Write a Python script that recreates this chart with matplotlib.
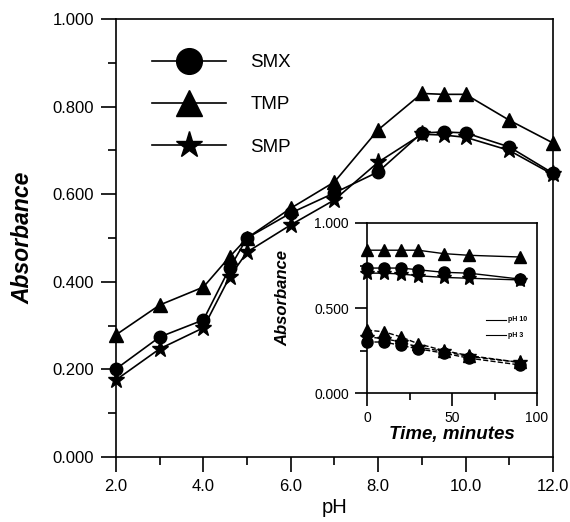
import numpy as np
import matplotlib
matplotlib.use('Agg')
import matplotlib.pyplot as plt
from matplotlib.ticker import MultipleLocator, FormatStrFormatter
from matplotlib.lines import Line2D

plt.rcParams['font.family'] = ['Liberation Sans', 'DejaVu Sans']

# main plot: absorbance vs pH
ph = [2, 3, 4, 4.6, 5, 6, 7, 8, 9, 9.5, 10, 11, 12]
smx = [0.201, 0.274, 0.313, 0.431, 0.500, 0.557, 0.603, 0.651, 0.740, 0.742, 0.740, 0.708, 0.648]
tmp = [0.279, 0.347, 0.388, 0.457, 0.500, 0.568, 0.628, 0.747, 0.830, 0.828, 0.828, 0.769, 0.717]
smp = [0.176, 0.247, 0.295, 0.411, 0.468, 0.530, 0.587, 0.673, 0.737, 0.735, 0.730, 0.700, 0.645]
names = ['SMX', 'TMP', 'SMP']

# inset: absorbance vs time at pH 10 and pH 3
t = [0, 10, 20, 30, 45, 60, 90]
tmp_10 = [0.84, 0.84, 0.84, 0.84, 0.82, 0.81, 0.80]
smx_10 = [0.735, 0.735, 0.735, 0.725, 0.71, 0.705, 0.67]
smp_10 = [0.705, 0.705, 0.70, 0.69, 0.68, 0.675, 0.665]
tmp_3 = [0.37, 0.36, 0.33, 0.29, 0.25, 0.22, 0.18]
smx_3 = [0.30, 0.30, 0.28, 0.26, 0.235, 0.205, 0.165]
smp_3 = [0.33, 0.32, 0.30, 0.27, 0.245, 0.215, 0.18]

fig = plt.figure(figsize=(5.7, 5.22), dpi=100)
ax = fig.add_axes([0.2035, 0.1245, 0.7665, 0.8391])

ax.plot(ph, smx, 'k-', marker='o', ms=9, lw=1.2, clip_on=False, zorder=3)
ax.plot(ph, tmp, 'k-', marker='^', ms=10, lw=1.2, clip_on=False, zorder=3)
ax.plot(ph, smp, 'k-', marker='*', ms=12.5, lw=1.2, clip_on=False, zorder=3)

ax.set_xlim(2, 12)
ax.set_ylim(0, 1)
ax.xaxis.set_major_locator(MultipleLocator(2))
ax.xaxis.set_minor_locator(MultipleLocator(1))
ax.yaxis.set_major_locator(MultipleLocator(0.2))
ax.yaxis.set_minor_locator(MultipleLocator(0.1))
ax.xaxis.set_major_formatter(FormatStrFormatter('%.1f'))
ax.yaxis.set_major_formatter(FormatStrFormatter('%.3f'))
ax.tick_params(which='major', direction='out', length=11, width=1.2, labelsize=12, pad=5)
ax.tick_params(which='minor', direction='out', length=6, width=1.2)
for s in ax.spines.values():
    s.set_linewidth(1.2)
ax.set_xlabel('pH', fontsize=14.5, labelpad=3)
ax.set_ylabel('Absorbance', fontsize=16.5, fontweight='bold', style='italic', labelpad=13)

handles = [Line2D([], [], color='k', lw=1.2, marker='o', ms=18.5),
           Line2D([], [], color='k', lw=1.2, marker='^', ms=19),
           Line2D([], [], color='k', lw=1.2, marker='*', ms=20)]
ax.legend(handles, names, loc='upper left', bbox_to_anchor=(0.082, 0.92), frameon=False,
          fontsize=13.5, handlelength=3.95, numpoints=1, borderpad=0, borderaxespad=0,
          labelspacing=1.34, handletextpad=1.3)

# inset
ins = fig.add_axes([0.6439, 0.2471, 0.2982, 0.3257])
ins.plot(t, tmp_10, 'k-', marker='^', ms=8, lw=1, clip_on=False)
ins.plot(t, smx_10, 'k-', marker='o', ms=8, lw=1, clip_on=False)
ins.plot(t, smp_10, 'k-', marker='*', ms=10, lw=1, clip_on=False)
ins.plot(t, tmp_3, 'k--', marker='^', ms=8, lw=1, clip_on=False)
ins.plot(t, smx_3, 'k--', marker='o', ms=8, lw=1, clip_on=False)
ins.plot(t, smp_3, 'k--', marker='*', ms=10, lw=1, clip_on=False)
ins.set_xlim(0, 100)
ins.set_ylim(0, 1)
ins.xaxis.set_major_locator(MultipleLocator(50))
ins.xaxis.set_minor_locator(MultipleLocator(25))
ins.yaxis.set_major_locator(MultipleLocator(0.5))
ins.yaxis.set_minor_locator(MultipleLocator(0.25))
ins.yaxis.set_major_formatter(FormatStrFormatter('%.3f'))
ins.tick_params(which='major', direction='out', length=9, width=1.2, labelsize=10, pad=4)
ins.tick_params(which='minor', direction='out', length=5, width=1.2)
for s in ins.spines.values():
    s.set_linewidth(1.2)
ins.set_xlabel('Time, minutes', fontsize=13.5, fontweight='bold', style='italic', labelpad=1)
ins.set_ylabel('Absorbance', fontsize=12, fontweight='bold', style='italic')
ins.yaxis.set_label_coords(-0.45, 0.56)

ins.plot([70, 82], [0.43, 0.43], 'k-', lw=0.8)
ins.plot([70, 82], [0.34, 0.34], 'k-', lw=0.8)
ins.text(83, 0.43, 'pH 10', fontsize=5, fontweight='bold', va='center')
ins.text(83, 0.34, 'pH 3', fontsize=5, fontweight='bold', va='center')

fig.savefig('out.png', dpi=100)
